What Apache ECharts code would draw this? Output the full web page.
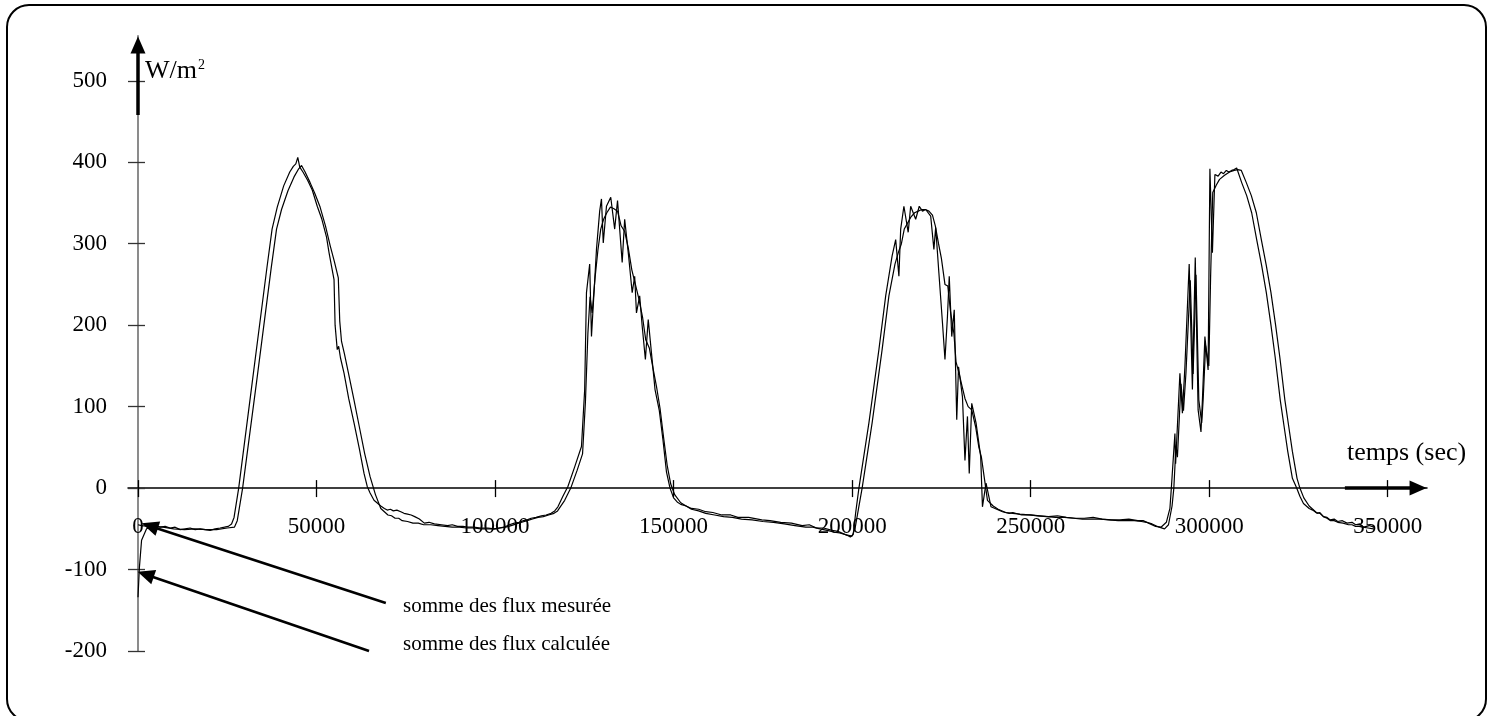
<!DOCTYPE html>
<html>
<head>
<meta charset="utf-8">
<script src="https://cdn.jsdelivr.net/npm/echarts@6/dist/echarts.min.js"></script>
<style>html,body{margin:0;padding:0;background:#fff}#c{width:1492px;height:716px}</style>
</head>
<body>
<div id="c"></div>
<script>
// Tick labels
const xTicks = [0, 50000, 100000, 150000, 200000, 250000, 300000, 350000];
const yTicks = [-200, -100, 0, 100, 200, 300, 400, 500];

// somme des flux mesurée : [temps (s), W/m2]
const mesuree = [
[0,-45],[1000,-46],[3000,-47],[4600,-46],[6200,-48],[7600,-47],[9000,-49],[10400,-48],[11800,-51],[13200,-50],[14600,-49],[16000,-51],[17400,-50],[18800,-51],[20200,-52],[21600,-50],[23000,-49],[24200,-48],[25300,-47],[26200,-44],[26900,-36],[28200,0],[32000,130],[36150,272],[37550,318],[39000,345],[40800,371],[42500,388],[43500,395],[44200,398],[44750,406],[45300,394],[46200,388],[47500,378],[48800,366],[50200,346],[51500,330],[52800,308],[53500,289],[54300,270],[54900,256],[55200,200],[55800,170],[56200,174],[56700,160],[57700,141],[59000,110],[60500,80],[62000,48],[63300,18],[64200,2],[65000,-6],[66100,-15],[68000,-22],[69000,-25],[69800,-27],[70700,-26],[71500,-28],[72500,-27],[73600,-29],[74500,-31],[75500,-32],[76500,-33],[77500,-35],[78800,-38],[80200,-43],[81500,-42],[83000,-44],[85000,-45],[86700,-46],[88000,-45],[89500,-47],[91000,-47],[92300,-48],[94000,-48],[96000,-49],[98000,-49],[99800,-50],[101000,-49],[102500,-48],[104000,-45],[105400,-43],[106700,-42],[108000,-40],[109000,-39],[110100,-37],[111500,-36],[113000,-34],[114300,-33],[115700,-31],[116700,-28],[117600,-23],[119000,-10],[120400,2],[122300,26],[124200,51],
[125100,121],[125600,240],[126500,275],[127000,186],[128400,293],[129300,340],[129800,355],[130300,301],[131200,346],[132400,357],[133500,318],[134300,353],[135600,277],[136300,330],[137400,285],[138400,240],[139100,260],[139600,215],[140500,236],[141200,199],[142100,158],[142900,207],[143800,166],[144800,121],[146000,95],[147000,60],[148000,20],[149000,0],[150000,-12],[151000,-17],[152000,-20],[153500,-22],[155000,-25],[157000,-26],[159000,-29],[161000,-30],[163500,-33],[166000,-33],[168000,-36],[171000,-36],[174700,-39],[177000,-40],[180000,-42],[183000,-43],[186000,-46],[188000,-45],[190000,-49],[192000,-49],[194400,-52],[196000,-53],[197000,-55],[198600,-58],[199500,-60],[200300,-57],[201000,-30],[201900,0],
[204700,80],[207500,170],[209400,236],[211200,285],[212200,305],[213100,260],[213600,318],[214500,346],[215700,314],[216400,346],[217800,330],[218800,346],[219700,340],[220600,342],[222000,334],[222900,293],[223400,320],[224300,264],[225300,203],[226000,158],[226700,211],[227200,260],[227900,186],[228600,219],[229300,84],[229800,149],[230900,112],[231600,34],[232300,88],[232800,18],[233500,104],[234700,80],[236000,39],[236500,-23],[237500,6],[238900,-23],[242100,-29],[244000,-31],[245000,-30],[247500,-33],[250000,-33],[252500,-34],[255000,-35],[257500,-34],[260000,-36],[262500,-37],[265000,-37],[267500,-36],[270000,-38],[272500,-39],[275000,-39],[277500,-38],[280000,-40],[281500,-40],[283000,-43],[285000,-47],[286500,-48],[288000,-42],[289000,-25],[289400,0],
[290400,67],[290600,30],[291800,141],[292500,92],[293200,149],[294400,275],[295300,121],[296100,283],[296900,96],[297700,69],[298100,108],[298800,186],[299700,145],[300200,392],[300900,289],[301600,385],[302500,383],[303300,388],[304000,386],[304800,390],[305500,388],[306300,390],[307000,391],[307700,393],[309100,375],[310500,359],[311900,338],[313300,305],[314700,273],[316000,240],[317300,200],[318500,160],[319900,108],[321000,75],[322000,45],[323300,12],[324500,0],[325400,-10],[326400,-19],[328000,-25],[329000,-27],[330200,-31],[331000,-30],[332000,-35],[333000,-36],[333900,-39],[335000,-38],[336000,-41],[337300,-40],[338600,-43],[340000,-42],[341000,-45],[342200,-44],[343300,-48],[344800,-46],[346100,-48]
];

// somme des flux calculée : [temps (s), W/m2]
const calculee = [
[0,-134],[400,-97],[1000,-64],[2400,-50],[4000,-47],[7000,-48],[10000,-50],[13000,-51],[16000,-50],[19000,-51],[22000,-51],[25000,-49],[27000,-48],[27800,-40],[29300,0],[33200,130],[37300,270],[38800,318],[40200,342],[42000,365],[43700,382],[45000,392],[45800,396],[46800,388],[48200,375],[49500,362],[51000,345],[52500,322],[53800,298],[55000,278],[56100,258],[56500,205],[57000,180],[57800,165],[59000,140],[60500,108],[62000,75],[63500,42],[65000,14],[66500,-8],[68000,-25],[70000,-33],[71000,-34],[72000,-37],[73000,-37],[74000,-40],[75500,-41],[77000,-43],[78500,-43],[80000,-45],[82000,-45],[84000,-46],[86000,-47],[88000,-48],[90000,-48],[92000,-49],[94000,-49],[96000,-50],[98000,-50],[100000,-50],[101500,-49],[103000,-48],[104500,-46],[106000,-44],[107500,-42],[109000,-40],[110500,-38],[112000,-36],[113500,-35],[115000,-33],[116500,-31],[117500,-28],[119500,-15],[121200,0],[123000,22],[124500,42],
[125300,105],[126000,190],[126600,235],[127200,215],[128000,258],[128800,292],[129600,318],[130400,330],[131300,338],[132300,345],[133300,343],[134300,340],[135300,322],[136300,315],[137300,295],[138300,268],[139300,250],[140300,232],[141300,210],[142200,182],[143200,172],[144200,148],[145200,125],[146200,98],[147200,62],[148200,28],[149200,5],[150300,-8],[152000,-18],[153500,-22],[155000,-26],[157000,-28],[159000,-31],[161500,-33],[164000,-35],[166500,-36],[169000,-38],[172000,-39],[175000,-41],[178000,-42],[181000,-44],[184000,-46],[187000,-48],[189000,-48],[191000,-50],[193000,-52],[195000,-54],[196500,-55],[198000,-57],[200000,-59],[200800,-50],[201800,-25],[202800,0],
[205600,80],[208400,170],[210300,236],[212000,275],[213000,290],[213800,300],[214600,318],[215500,325],[216500,333],[217500,338],[218500,340],[219500,342],[220500,342],[221500,340],[222500,335],[223300,322],[224200,300],[225000,282],[226000,250],[226800,248],[227600,215],[228500,190],[229100,155],[230000,140],[230800,125],[231600,110],[232500,100],[233500,96],[234600,75],[235500,50],[236200,38],[237100,10],[237900,-15],[239500,-22],[240900,-26],[243000,-30],[245000,-31],[247000,-32],[249500,-33],[252000,-34],[254500,-35],[257000,-36],[259500,-36],[262000,-37],[264500,-38],[267000,-38],[269500,-38],[272000,-39],[274500,-40],[277000,-40],[279000,-40],[281000,-41],[282500,-42],[284000,-44],[286000,-48],[287500,-50],[288600,-45],[289600,-22],[290100,0],
[290700,52],[291100,38],[292100,128],[292800,95],[293500,142],[294700,255],[295500,140],[296300,262],[297100,108],[297900,80],[298300,108],[299000,175],[299900,150],[300400,260],[301000,363],[302000,372],[302900,379],[304300,384],[305700,388],[307000,390],[308000,391],[309000,390],[310400,375],[311800,359],[313200,338],[314600,305],[316000,273],[317300,240],[318600,200],[319800,160],[321200,108],[322300,75],[323300,45],[324600,12],[325400,0],[326500,-12],[328000,-22],[329000,-26],[330000,-30],[331000,-31],[332000,-35],[333000,-37],[334000,-40],[335000,-40],[336000,-42],[337500,-43],[339000,-45],[340000,-45],[341000,-47],[342000,-47],[343000,-48],[344500,-49],[346000,-50]
];

const FONT = "'Liberation Serif', 'Times New Roman', serif";
const chart = echarts.init(document.getElementById('c'));

const baseX = { type: 'value', min: -2800, max: 361000, splitLine: { show: false } };
const baseY = { type: 'value', min: -200, max: 555, splitLine: { show: false } };
const plain = v => String(v);

chart.setOption({
  animation: false,
  backgroundColor: '#fff',
  grid: { left: 128, right: 65, top: 36, bottom: 65, containLabel: false },
  xAxis: [
    Object.assign({}, baseX, {
      position: 'bottom',
      axisLine: { show: true, onZero: true, lineStyle: { color: '#000', width: 1.5 } },
      axisTick: { show: true, inside: false, length: 9, customValues: xTicks, lineStyle: { color: '#000', width: 1.3 } },
      axisLabel: { show: false }
    }),
    Object.assign({}, baseX, {
      position: 'bottom',
      axisLine: { show: false, onZero: true },
      axisTick: { show: true, inside: true, length: 8, customValues: xTicks, lineStyle: { color: '#000', width: 1.3 } },
      axisLabel: { show: false }
    }),
    Object.assign({}, baseX, {
      position: 'bottom',
      offset: -163,
      axisLine: { show: false, onZero: false },
      axisTick: { show: false },
      axisLabel: { show: true, customValues: xTicks, formatter: plain, margin: 27, color: '#000', fontFamily: FONT, fontSize: 23 }
    })
  ],
  yAxis: [
    Object.assign({}, baseY, {
      position: 'left',
      axisLine: { show: true, onZero: true, lineStyle: { color: '#7f7f7f', width: 1.8 } },
      axisTick: { show: true, inside: false, length: 10, customValues: yTicks, lineStyle: { color: '#333', width: 1.3 } },
      axisLabel: { show: false }
    }),
    Object.assign({}, baseY, {
      position: 'left',
      axisLine: { show: false, onZero: true },
      axisTick: { show: true, inside: true, length: 7, customValues: yTicks, lineStyle: { color: '#333', width: 1.3 } },
      axisLabel: { show: false }
    }),
    Object.assign({}, baseY, {
      position: 'left',
      offset: -10,
      axisLine: { show: false, onZero: false },
      axisTick: { show: false },
      axisLabel: { show: true, customValues: yTicks, formatter: plain, margin: 31, color: '#000', fontFamily: FONT, fontSize: 23 }
    })
  ],
  series: [
    {
      name: 'somme des flux mesurée',
      type: 'line',
      data: mesuree,
      showSymbol: false,
      symbol: 'none',
      lineStyle: { color: '#000', width: 1.2 },
      z: 3,
      markLine: {
        silent: true,
        symbol: ['none', 'triangle'],
        symbolSize: [15, 17],
        label: { show: false },
        lineStyle: { color: '#000', width: 2.6, type: 'solid' },
        itemStyle: { color: '#000' },
        data: [
          [{ coord: [69400, -141] }, { coord: [3300, -46.5] }],
          [{ coord: [64700, -200] }, { coord: [2150, -106] }],
          [{ coord: [0, 458], lineStyle: { width: 3.5 } }, { coord: [0, 544] }],
          [{ coord: [338000, 0], lineStyle: { width: 3.5 } }, { coord: [358500, 0] }]
        ]
      }
    },
    {
      name: 'somme des flux calculée',
      type: 'line',
      data: calculee,
      showSymbol: false,
      symbol: 'none',
      lineStyle: { color: '#000', width: 1.2 },
      z: 3
    }
  ],
  graphic: [
    { type: 'rect', silent: true, shape: { x: 7, y: 5, width: 1479, height: 716, r: 22 },
      style: { fill: 'none', stroke: '#000', lineWidth: 2 } },
    { type: 'text', left: 1347, top: 440, silent: true,
      style: { text: 'temps (sec)', fill: '#000', font: '26px ' + FONT } },
    { type: 'text', left: 145, top: 58, silent: true,
      style: { text: 'W/m{s|2}', fill: '#000', font: '26px ' + FONT,
        rich: { s: { fontSize: 14, fontFamily: FONT, verticalAlign: 'top', padding: [0, 0, 10, 1] } } } },
    { type: 'text', left: 403, top: 596, silent: true,
      style: { text: 'somme des flux mesurée', fill: '#000', font: '21px ' + FONT } },
    { type: 'text', left: 403, top: 634, silent: true,
      style: { text: 'somme des flux calculée', fill: '#000', font: '21px ' + FONT } }
  ]
});
</script>
</body>
</html>
